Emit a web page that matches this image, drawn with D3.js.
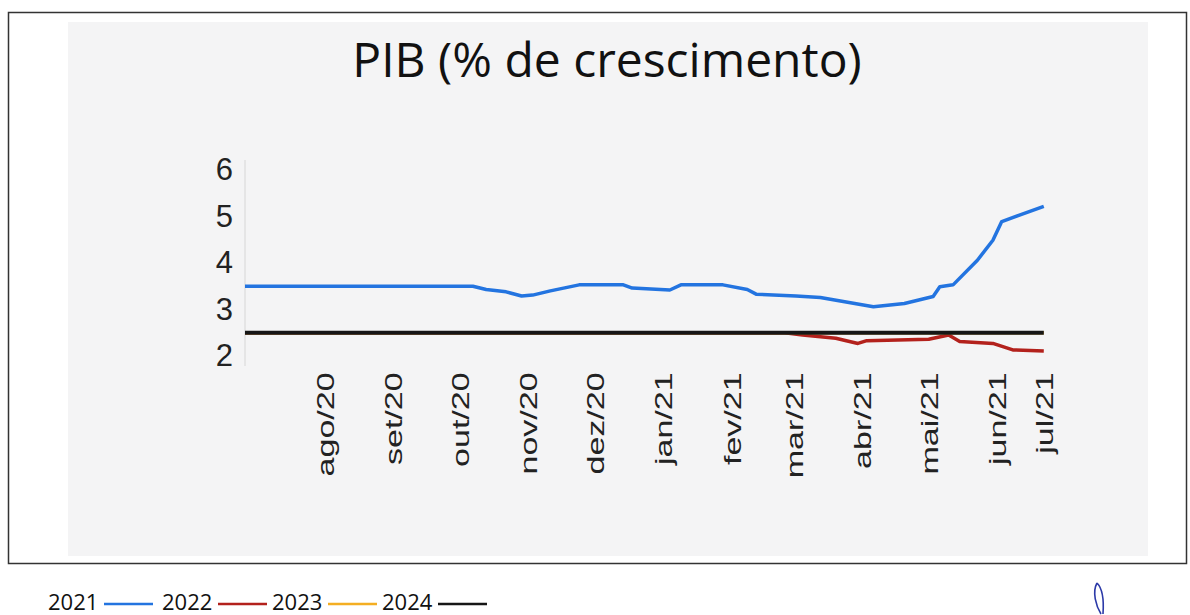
<!DOCTYPE html>
<html>
<head>
<meta charset="utf-8">
<script src="https://cdn.jsdelivr.net/npm/d3@7"></script>
<style>
  body { margin: 0; background: #fff; }
</style>
</head>
<body>
<div id="chart"></div>
<script>
// expectativas Focus - PIB
const dates2021 = ['2020-06-26', '2020-10-07', '2020-10-13', '2020-10-22', '2020-10-29', '2020-11-03',
  '2020-11-11', '2020-11-24', '2020-12-14', '2020-12-18', '2021-01-04', '2021-01-09', '2021-01-28',
  '2021-02-08', '2021-02-12', '2021-03-02', '2021-03-13', '2021-04-06', '2021-04-20', '2021-05-03',
  '2021-05-06', '2021-05-12', '2021-05-23', '2021-05-30', '2021-06-03', '2021-06-11', '2021-06-22']
const pib2021 = [3.50, 3.50, 3.43, 3.38, 3.29, 3.31, 3.40, 3.53, 3.53, 3.46, 3.42, 3.53, 3.53,
  3.43, 3.33, 3.29, 3.26, 3.06, 3.13, 3.28, 3.49, 3.53, 4.06, 4.49, 4.89, 5.03, 5.22]

const dates2022 = ['2020-06-26', '2021-02-25', '2021-03-05', '2021-03-20', '2021-03-30', '2021-04-03',
  '2021-05-01', '2021-05-10', '2021-05-15', '2021-05-30', '2021-06-08', '2021-06-22']
const pib2022 = [2.50, 2.50, 2.45, 2.38, 2.27, 2.33, 2.36, 2.45, 2.31, 2.27, 2.13, 2.11]

const dates2023 = ['2020-06-26', '2021-06-22']
const pib2023 = [2.50, 2.50]

const dates2024 = ['2020-06-26', '2021-06-22']
const pib2024 = [2.50, 2.50]

const yTicks = [2, 3, 4, 5, 6]
const monthTicks = ['2020-08-01', '2020-09-01', '2020-10-01', '2020-11-01', '2020-12-01', '2021-01-01',
  '2021-02-01', '2021-03-01', '2021-04-01', '2021-05-01', '2021-06-01', '2021-06-22']
const monthLabels = ['ago/20', 'set/20', 'out/20', 'nov/20', 'dez/20', 'jan/21',
  'fev/21', 'mar/21', 'abr/21', 'mai/21', 'jun/21', 'jul/21']

const legendNames = ['2021', '2022', '2023', '2024']
const colors = ['#2374e0', '#b3211c', '#f4ae22', '#161616']

const width = 1190
const height = 615
const parse = d3.timeParse('%Y-%m-%d')

const svg = d3.select('#chart')
  .append('svg')
  .attr('width', width)
  .attr('height', height)

// moldura e fundo
svg.append('rect')
  .attr('x', 8.5).attr('y', 12.5)
  .attr('width', 1178).attr('height', 551)
  .attr('fill', '#fff')
  .attr('stroke', '#333')
  .attr('stroke-width', 1.5)

svg.append('rect')
  .attr('x', 68).attr('y', 22)
  .attr('width', 1080).attr('height', 534)
  .attr('fill', '#f4f4f5')

svg.append('text')
  .attr('x', 607)
  .attr('y', 77)
  .attr('text-anchor', 'middle')
  .attr('font-family', 'Open Sans')
  .attr('font-size', 48)
  .attr('fill', '#111')
  .text('PIB (% de crescimento)')

const x = d3.scaleTime()
  .domain([parse('2020-06-26'), parse('2021-06-23')])
  .range([245, 1046])

const y = d3.scaleLinear()
  .domain([2, 6])
  .range([356, 170])

// eixo y
const yAxis = svg.append('g')
  .attr('transform', 'translate(245,0)')
  .call(d3.axisLeft(y).tickValues(yTicks).tickFormat(d3.format('d')).tickSize(0).tickPadding(12))
yAxis.select('.domain')
  .attr('stroke', '#d6d6d6')
  .attr('d', 'M0,160V366')
yAxis.selectAll('text')
  .attr('font-family', 'Liberation Sans')
  .attr('font-size', 31)
  .attr('fill', '#222')

// eixo x
const xAxis = svg.append('g')
  .attr('transform', 'translate(0,368)')
  .call(d3.axisBottom(x)
    .tickValues(monthTicks.map(parse))
    .tickFormat((d, i) => monthLabels[i])
    .tickSize(0))
xAxis.select('.domain').remove()
xAxis.selectAll('text')
  .attr('font-family', 'Liberation Sans')
  .attr('font-size', 24)
  .attr('fill', '#222')
  .attr('text-anchor', 'end')
  .attr('dy', '0.35em')
  .attr('y', 0)
  .attr('transform', 'rotate(-90) scale(1.42,1) translate(-3,0)')

// linhas
const line = d3.line()
  .x(d => x(d.date))
  .y(d => y(d.value))

const seriesList = [
  [dates2021, pib2021],
  [dates2022, pib2022],
  [dates2023, pib2023],
  [dates2024, pib2024]
]

seriesList.forEach((s, i) => {
  const data = s[0].map((d, j) => ({date: parse(d), value: s[1][j]}))
  svg.append('path')
    .datum(data)
    .attr('fill', 'none')
    .attr('stroke', colors[i])
    .attr('stroke-width', i === 3 ? 4 : 3.5)
    .attr('stroke-linejoin', 'round')
    .attr('d', line)
})

// legenda
const legendX = [48, 162, 272, 382]
const legend = svg.append('g')
legendNames.forEach((name, i) => {
  legend.append('text')
    .attr('x', legendX[i])
    .attr('y', 610)
    .attr('font-family', 'Open Sans')
    .attr('font-size', 22)
    .attr('fill', '#111')
    .text(name)
  legend.append('line')
    .attr('x1', legendX[i] + 56).attr('x2', legendX[i] + 105)
    .attr('y1', 604).attr('y2', 604)
    .attr('stroke', colors[i])
    .attr('stroke-width', 2.5)
})

// marca de caneta
svg.append('path')
  .attr('d', 'M1097,583 C1092,592 1096,606 1101,614 M1097,583 C1102,588 1104,600 1103,614')
  .attr('fill', 'none')
  .attr('stroke', '#2c3aa8')
  .attr('stroke-width', 1.6)
</script>
</body>
</html>
